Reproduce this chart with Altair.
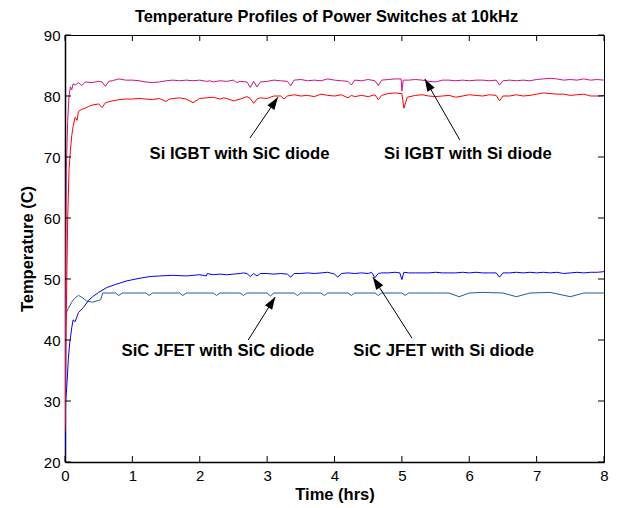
import altair as alt
import pandas as pd

# ---------------- data ----------------
si_si_t = [0, 0.01, 0.02, 0.04, 0.06, 0.08, 0.1, 0.12, 0.15, 0.2, 0.25, 0.3, 0.4, 0.5, 0.55, 0.6, 0.65, 0.7, 0.8, 0.9,
           1.0, 1.1, 1.2, 1.3, 1.4, 1.5, 1.6, 1.7, 1.8, 1.9, 2.0, 2.1, 2.15, 2.2, 2.3, 2.4, 2.5, 2.55, 2.6, 2.7,
           2.75, 2.8, 2.85, 2.9, 3.0, 3.1, 3.2, 3.3, 3.35, 3.4, 3.5, 3.6, 3.7, 3.8, 3.9, 4.0, 4.1, 4.2, 4.25, 4.3,
           4.4, 4.5, 4.6, 4.65, 4.7, 4.8, 4.9, 4.99, 5.0, 5.02, 5.1, 5.2, 5.3, 5.4, 5.5, 5.6, 5.7, 5.8, 5.9, 6.0,
           6.1, 6.2, 6.3, 6.4, 6.45, 6.5, 6.6, 6.7, 6.8, 6.9, 7.0, 7.1, 7.2, 7.3, 7.4, 7.5, 7.6, 7.7, 7.8, 7.9, 8.0]
si_si_v = [26, 50, 68, 76, 80, 81.5, 81, 82, 81.8, 82.2, 81.7, 82.3, 82.2, 82.4, 82.3, 81.6, 82.4, 82.5, 82.8, 82.6,
           82.6, 82.5, 82.3, 82.2, 82.3, 82.5, 82.6, 82.5, 82.6, 82.5, 82.6, 82.4, 82.5, 82.3, 82.5, 82.4, 82.6, 82.2, 82.4, 82.3,
           81.4, 82.4, 81.5, 82.3, 82.4, 82.6, 82.5, 82.4, 81.7, 82.6, 82.7, 82.5, 82.6, 82.5, 82.8, 82.6, 82.5, 82.4, 81.8, 82.6,
           82.5, 82.7, 82.5, 81.7, 82.6, 82.7, 82.8, 82.8, 80.8, 82.6, 82.6, 82.7, 82.6, 82.4, 82.3, 82.6, 82.6, 82.5, 82.6, 82.5,
           82.6, 82.6, 82.5, 82.6, 81.8, 82.5, 82.6, 82.5, 82.6, 82.5, 82.7, 82.8, 82.9, 82.8, 82.6, 82.7, 82.6, 82.8, 82.6, 82.7, 82.6]

si_sic_t = [0, 0.02, 0.04, 0.06, 0.08, 0.1, 0.12, 0.15, 0.18, 0.2, 0.25, 0.3, 0.35, 0.4, 0.5, 0.55, 0.6, 0.7, 0.8, 0.9,
            1.0, 1.1, 1.2, 1.3, 1.4, 1.5, 1.55, 1.7, 1.8, 1.9, 2.0, 2.1, 2.2, 2.3, 2.35, 2.4, 2.5, 2.6, 2.7, 2.75,
            2.8, 2.85, 2.9, 3.0, 3.1, 3.2, 3.25, 3.3, 3.4, 3.5, 3.6, 3.7, 3.8, 3.9, 4.0, 4.1, 4.2, 4.25, 4.3, 4.4,
            4.5, 4.6, 4.65, 4.7, 4.8, 4.9, 5.0, 5.03, 5.08, 5.2, 5.3, 5.4, 5.5, 5.6, 5.7, 5.8, 5.9, 6.0, 6.1, 6.2,
            6.3, 6.4, 6.45, 6.5, 6.6, 6.7, 6.8, 6.9, 7.0, 7.1, 7.2, 7.3, 7.4, 7.5, 7.6, 7.7, 7.8, 7.9, 8.0]
si_sic_v = [25, 45, 60, 68, 71, 73.5, 75, 76.5, 76, 77.5, 77.8, 78, 78.3, 78.5, 78.7, 78.1, 78.9, 79.2, 79.4, 79.5,
            79.5, 79.6, 79.5, 79.4, 79.6, 79.1, 79.5, 79.7, 79.5, 78.9, 79.6, 79.7, 79.8, 79.5, 79.7, 79.6, 79.2, 79.5, 79.9, 79.6,
            78.8, 79.5, 79.7, 79.6, 80.0, 80.0, 79.5, 80.0, 80.2, 80.0, 80.1, 79.9, 80.3, 80.1, 80.0, 80.2, 79.7, 80.1, 79.9, 80.1,
            79.9, 80.2, 79.4, 80.1, 80.4, 80.5, 80.4, 78.0, 79.8, 80.1, 80.2, 80.0, 79.9, 80.0, 80.1, 79.8, 80.0, 80.2, 80.1, 80.0,
            80.2, 80.1, 79.2, 80.0, 80.0, 80.2, 80.0, 80.1, 80.3, 80.5, 80.4, 80.3, 80.3, 80.1, 80.2, 80.3, 80.0, 80.0, 80.1]

jfet_si_t = [0, 0.01, 0.03, 0.05, 0.07, 0.1, 0.12, 0.15, 0.2, 0.27, 0.35, 0.41, 0.5, 0.62, 0.75, 0.92, 1.1, 1.26, 1.4, 1.6,
             1.8, 1.9, 2.0, 2.1, 2.11, 2.2, 2.3, 2.4, 2.5, 2.6, 2.65, 2.7, 2.75, 2.8, 2.85, 2.9, 3.0, 3.1, 3.2, 3.3,
             3.35, 3.4, 3.5, 3.6, 3.7, 3.8, 3.9, 4.0, 4.05, 4.1, 4.2, 4.3, 4.4, 4.5, 4.55, 4.6, 4.65, 4.7, 4.8, 4.9,
             4.97, 5.0, 5.03, 5.1, 5.2, 5.3, 5.4, 5.5, 5.6, 5.7, 5.8, 5.9, 6.0, 6.1, 6.2, 6.3, 6.4, 6.45, 6.5, 6.6,
             6.7, 6.8, 6.9, 7.0, 7.1, 7.2, 7.3, 7.4, 7.5, 7.6, 7.7, 7.8, 7.9, 8.0]
jfet_si_v = [21, 30, 33, 37, 39.5, 42, 43.3, 43, 44.5, 45.3, 46.5, 47.1, 47.8, 48.6, 49.1, 49.7, 50.1, 50.4, 50.5, 50.6,
             50.5, 50.6, 50.7, 50.5, 50.9, 50.7, 50.8, 50.7, 50.8, 50.9, 51.0, 50.9, 50.4, 50.9, 50.5, 50.9, 50.9, 50.8, 50.9, 50.8,
             50.3, 50.9, 50.9, 51.0, 50.9, 51.0, 51.1, 50.8, 50.3, 50.9, 51.0, 50.9, 51.0, 50.9, 51.1, 50.2, 50.9, 51.0, 51.0, 51.1,
             51.0, 49.9, 51.1, 51.0, 51.0, 51.0, 51.0, 51.1, 51.0, 51.0, 51.0, 51.1, 51.0, 51.1, 51.0, 51.0, 51.0, 50.3, 51.0, 51.0,
             51.1, 51.0, 51.1, 51.0, 51.1, 51.0, 51.1, 50.9, 51.0, 51.1, 51.0, 51.1, 51.1, 51.2]

jfet_sic_t = [0, 0.02, 0.05, 0.07, 0.1, 0.14, 0.2, 0.25, 0.32, 0.41, 0.5, 0.53, 0.56, 0.65, 0.75, 0.8, 0.85, 1.0, 1.2, 1.25,
              1.3, 1.5, 1.7, 1.75, 1.8, 2.0, 2.2, 2.25, 2.3, 2.5, 2.6, 2.65, 2.7, 2.9, 3.0, 3.05, 3.1, 3.3, 3.4, 3.45,
              3.5, 3.7, 3.8, 3.85, 3.9, 4.1, 4.2, 4.25, 4.3, 4.5, 4.6, 4.65, 4.7, 4.9, 5.0, 5.05, 5.1, 5.3, 5.5, 5.7,
              5.85, 6.0, 6.2, 6.5, 6.7, 6.9, 7.2, 7.5, 7.7, 8.0]
jfet_sic_v = [41.5, 44.5, 45.2, 45.6, 46.2, 46.8, 47.3, 47.0, 46.4, 46.2, 46.5, 46.6, 47.7, 47.7, 47.7, 47.3, 47.7, 47.7, 47.7, 47.3,
              47.7, 47.7, 47.7, 47.3, 47.7, 47.7, 47.7, 47.3, 47.7, 47.7, 47.7, 47.3, 47.7, 47.7, 47.7, 47.2, 47.7, 47.7, 47.7, 47.3,
              47.7, 47.7, 47.7, 47.3, 47.7, 47.7, 47.7, 47.3, 47.7, 47.7, 47.7, 47.3, 47.7, 47.7, 47.7, 47.3, 47.7, 47.7, 47.7, 47.7,
              47.1, 47.7, 47.8, 47.7, 47.1, 47.7, 47.8, 47.1, 47.7, 47.7]

series_names = ["SiC JFET with SiC diode", "SiC JFET with Si diode",
                "Si IGBT with SiC diode", "Si IGBT with Si diode"]
series_colors = ["#1E5C99", "#0000FF", "#FF0000", "#D4117F"]

title_text = ["Temperature Profiles of Power Switches at 10kHz"]

label_text = ["Si IGBT with SiC diode", "Si IGBT with Si diode",
              "SiC JFET with SiC diode", "SiC JFET with Si diode"]
label_x = [2.59, 5.98, 2.27, 5.62]
label_y = [70.5, 70.5, 38.2, 38.2]

arrow_x0 = [2.745, 5.86, 2.72, 5.15]
arrow_y0 = [73.1, 72.8, 40.0, 40.3]
arrow_x1 = [3.16, 5.34, 3.12, 4.57]
arrow_y1 = [79.8, 82.8, 47.05, 50.3]
arrow_angle = [34, 330, 32, 327]

x_ticks = [0, 1, 2, 3, 4, 5, 6, 7, 8]
y_ticks = [20, 30, 40, 50, 60, 70, 80, 90]

# ---------------- tables ----------------
rows = []
for name, ts, vs in [(series_names[0], jfet_sic_t, jfet_sic_v),
                     (series_names[1], jfet_si_t, jfet_si_v),
                     (series_names[2], si_sic_t, si_sic_v),
                     (series_names[3], si_si_t, si_si_v)]:
    for i, (t, v) in enumerate(zip(ts, vs)):
        rows.append({"series": name, "t": t, "v": v, "i": i})
lines_df = pd.DataFrame(rows)
labels_df = pd.DataFrame({"text": label_text, "x": label_x, "y": label_y})
arrows_df = pd.DataFrame({"x0": arrow_x0, "y0": arrow_y0, "x1": arrow_x1,
                          "y1": arrow_y1, "angle": arrow_angle})
xt_df = pd.DataFrame({"t": x_ticks})
yt_df = pd.DataFrame({"v": y_ticks})
title_df = pd.DataFrame({"text": title_text})

FONT = "Liberation Sans"
W, H = 539, 427

xscale = alt.Scale(domain=[0, 8], nice=False, zero=False)
yscale = alt.Scale(domain=[20, 90], nice=False, zero=False)

xaxis = alt.Axis(values=x_ticks, format="d", title="Time (hrs)", ticks=False, labelPadding=6,
                 titlePadding=3, grid=False, labelFlush=False,
                 labelFont=FONT, labelFontSize=15, labelColor="black",
                 titleFont=FONT, titleFontSize=16.5, titleFontWeight="bold", titleColor="black",
                 domainColor="black", domainWidth=1.5)
yaxis = alt.Axis(values=y_ticks, format="d", title="Temperature (C)", ticks=False, labelPadding=5,
                 titlePadding=8, grid=False, labelFlush=False,
                 labelFont=FONT, labelFontSize=15, labelColor="black",
                 titleFont=FONT, titleFontSize=16.5, titleFontWeight="bold", titleColor="black",
                 domainColor="black", domainWidth=1.5)

lines = alt.Chart(lines_df).mark_line(strokeWidth=1, clip=True).encode(
    x=alt.X("t:Q", scale=xscale, axis=xaxis),
    y=alt.Y("v:Q", scale=yscale, axis=yaxis),
    color=alt.Color("series:N", scale=alt.Scale(domain=series_names, range=series_colors), legend=None),
    order="i:Q",
    detail="series:N",
)

texts = alt.Chart(labels_df).mark_text(font=FONT, fontSize=16.7, fontWeight="bold", color="black",
                                       align="center", baseline="middle").encode(
    x=alt.X("x:Q", scale=xscale), y=alt.Y("y:Q", scale=yscale), text="text:N")

title = alt.Chart(title_df).mark_text(font=FONT, fontSize=16.4, fontWeight="bold", color="black",
                                      align="center", baseline="middle").encode(
    x=alt.value(W / 2 - 8), y=alt.value(-18), text="text:N")

shafts = alt.Chart(arrows_df).mark_rule(color="black", strokeWidth=1).encode(
    x=alt.X("x0:Q", scale=xscale), y=alt.Y("y0:Q", scale=yscale), x2="x1:Q", y2="y1:Q")

heads = alt.Chart(arrows_df).mark_point(shape="M0,0 L-0.42,1.25 L0.42,1.25 Z", filled=True,
                                        color="black", opacity=1, size=400).encode(
    x=alt.X("x1:Q", scale=xscale), y=alt.Y("y1:Q", scale=yscale), angle=alt.Angle("angle:Q", scale=None))

xt_bottom = alt.Chart(xt_df).mark_rule(color="black").encode(
    x=alt.X("t:Q", scale=xscale), y=alt.value(H), y2=alt.value(H - 6))
xt_top = alt.Chart(xt_df).mark_rule(color="black").encode(
    x=alt.X("t:Q", scale=xscale), y=alt.value(0), y2=alt.value(6))
yt_left = alt.Chart(yt_df).mark_rule(color="black").encode(
    y=alt.Y("v:Q", scale=yscale), x=alt.value(0), x2=alt.value(6))
yt_right = alt.Chart(yt_df).mark_rule(color="black").encode(
    y=alt.Y("v:Q", scale=yscale), x=alt.value(W), x2=alt.value(W - 6))

chart = alt.layer(lines, shafts, heads, texts, title, xt_bottom, xt_top, yt_left, yt_right).properties(
    width=W, height=H,
    autosize=alt.AutoSizeParams(type="none"),
    padding={"left": 65, "top": 35, "right": 14, "bottom": 46},
    background="white",
).configure_view(stroke="black", strokeWidth=1)

chart.save("out.html", embed_options={"renderer": "svg", "actions": False})
